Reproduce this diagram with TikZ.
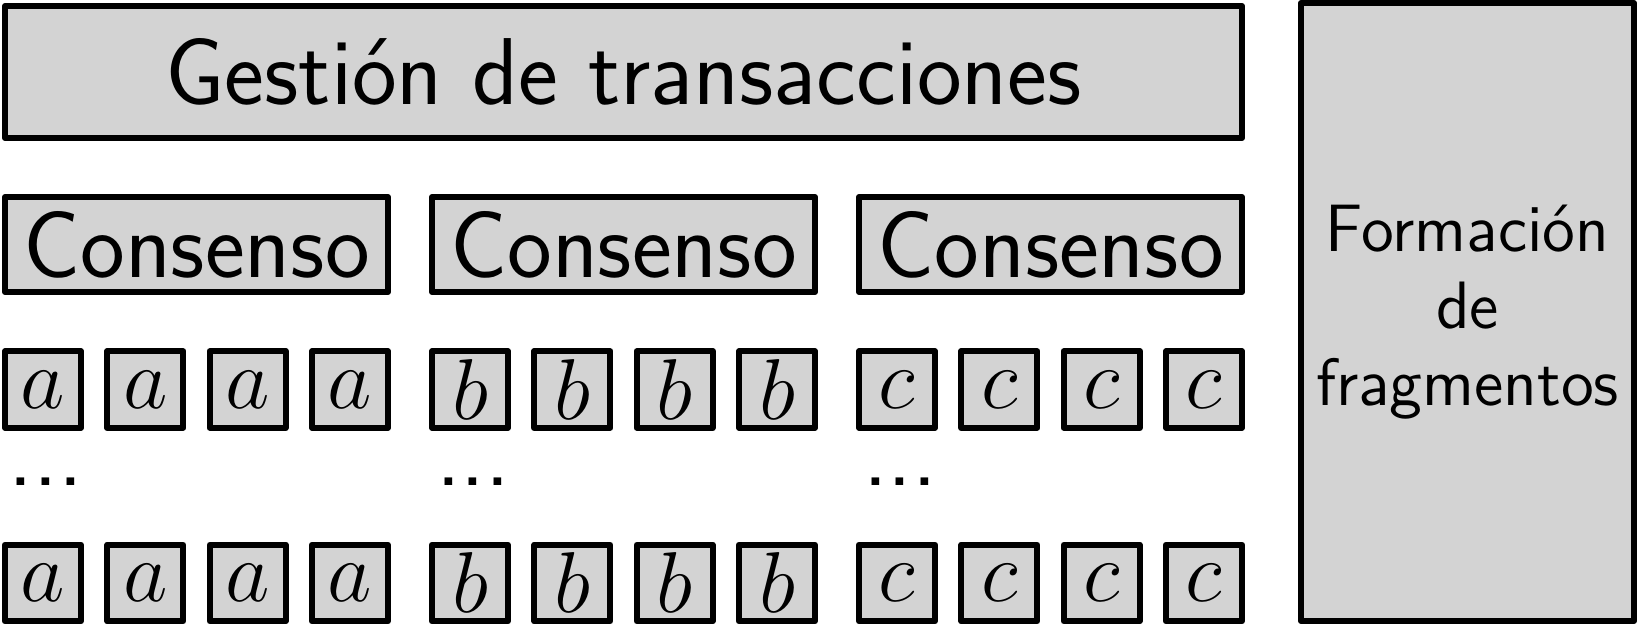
\documentclass[tikz,border=0pt]{standalone}
\usetikzlibrary{positioning}
\definecolor{boxgray}{RGB}{211,211,211}

\begin{document}
\begin{tikzpicture}[
         x=0.2pt, y=0.2pt,
         block/.style={draw, fill=boxgray, line width=1.2pt, line join=round, inner sep=0pt, font=\sffamily},
         layer/.style={block, minimum width=247.4pt, minimum height=26.4pt, font=\fontsize{19}{23}\selectfont\sffamily},
         consensus/.style={block, minimum width=76.6pt, minimum height=19pt, font=\fontsize{19}{23}\selectfont\sffamily},
         shard/.style={block, minimum width=15.2pt, minimum height=15.3pt, font=\fontsize{17.28}{21}\selectfont},
         side/.style={block, minimum width=66.6pt, minimum height=123.6pt, align=center, font=\fontsize{13.4}{15.4}\selectfont\sffamily},
         gap/.style={anchor=base west, inner sep=0pt, font=\fontsize{19}{23}\selectfont\sffamily}
      ]
         \useasboundingbox (0,0) rectangle (1638,625);

         % Nodes for layers
         \node[layer] (tx) at (623.5,553) {Gestión de transacciones};
         \node[side] (frag) at (1467.5,313) {Formación\\de\\fragmentos};

         % Consensus per shard
         \node[consensus] (consA) at (196.5,380.5) {Consenso};
         \node[consensus] (consB) at (623.5,380.5) {Consenso};
         \node[consensus] (consC) at (1050.5,380.5) {Consenso};

         % Shard members
         \foreach \g/\s in {0/a, 1/b, 2/c} {
            \foreach \k in {0,...,3} {
               \node[shard] (top-\s\k) at (43+102.33*\k+427*\g,235.5) {$\s$};
               \node[shard] (bot-\s\k) at (43+102.33*\k+427*\g,42) {$\s$};
            }
            \node[gap] (dots-\s) at (8+427*\g,139) {...};
         }
      \end{tikzpicture}
\end{document}
